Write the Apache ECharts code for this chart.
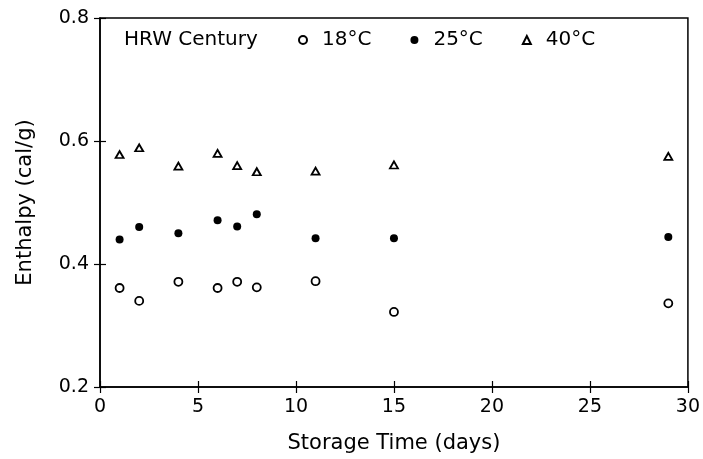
<!DOCTYPE html>
<html>
<head>
<meta charset="utf-8">
<script src="https://cdn.jsdelivr.net/npm/echarts@6/dist/echarts.min.js"></script>
<style>
html,body{margin:0;padding:0;background:#fff;}
#chart{width:703px;height:459px;}
</style>
</head>
<body>
<div id="chart"></div>
<script>
// storage days
var days=[1,2,4,6,7,8,11,15,29];
// enthalpy (cal/g) per temperature
var t18=[0.361,0.340,0.371,0.361,0.371,0.362,0.372,0.322,0.336];
var t25=[0.440,0.460,0.450,0.471,0.461,0.481,0.442,0.442,0.444];
var t40=[0.578,0.589,0.559,0.580,0.560,0.550,0.551,0.561,0.575];

function pairs(ys){
	var out=[];
	for(var i=0;i<days.length;i++){
		out.push([days[i],ys[i]]);
	}
	return out;
}

var font="DejaVu Sans";
var nameTxt={color:'#000',fontSize:21,fontFamily:font};

var option={
	animation:false,
	backgroundColor:'#fff',
	grid:{left:100,right:14,top:18,bottom:71,show:true,borderColor:'#000',borderWidth:1.5,backgroundColor:'transparent'},
	graphic:[
		{type:'text',x:124,y:40,style:{text:'HRW Century',fill:'#000',font:'20px "DejaVu Sans"',textVerticalAlign:'middle'}}
	],
	legend:{
		left:293,top:25,
		itemWidth:8,itemHeight:8,itemGap:39,
		textStyle:{color:'#000',fontSize:20,fontFamily:font,padding:[0,0,0,10]},
		data:['18°C','25°C','40°C']
	},
	xAxis:[
		{
			type:'value',min:0,max:30,interval:5,
			name:'Storage Time (days)',nameLocation:'middle',nameGap:46,
			nameTextStyle:nameTxt,
			axisLine:{show:true,lineStyle:{color:'#000',width:1.5}},
			axisTick:{show:true,inside:false,length:6,lineStyle:{color:'#000',width:1.2}},
			axisLabel:{color:'#000',fontSize:19,fontFamily:font,margin:11},
			splitLine:{show:false}
		},
		{
			type:'value',min:0,max:30,interval:5,position:'bottom',
			axisLine:{show:false},
			axisTick:{show:true,inside:true,length:6,lineStyle:{color:'#000',width:1.2}},
			axisLabel:{show:false},
			splitLine:{show:false}
		}
	],
	yAxis:[
		{
			type:'value',min:0.2,max:0.8,interval:0.2,
			name:'Enthalpy (cal/g)',nameLocation:'middle',nameGap:64,
			nameTextStyle:nameTxt,
			axisLine:{show:true,lineStyle:{color:'#000',width:1.5}},
			axisTick:{show:true,inside:false,length:6,lineStyle:{color:'#000',width:1.2}},
			axisLabel:{color:'#000',fontSize:19,fontFamily:font,margin:11,formatter:function(v){return v.toFixed(1);}},
			splitLine:{show:false}
		},
		{
			type:'value',min:0.2,max:0.8,interval:0.2,position:'left',
			axisLine:{show:false},
			axisTick:{show:true,inside:true,length:6,lineStyle:{color:'#000',width:1.2}},
			axisLabel:{show:false},
			splitLine:{show:false}
		}
	],
	series:[
		{
			name:'18°C',type:'scatter',data:pairs(t18),
			symbol:'circle',symbolSize:8,
			itemStyle:{color:'#fff',borderColor:'#000',borderWidth:1.8,opacity:1}
		},
		{
			name:'25°C',type:'scatter',data:pairs(t25),
			symbol:'circle',symbolSize:8,
			itemStyle:{color:'#000',borderColor:'#000',borderWidth:0,opacity:1}
		},
		{
			name:'40°C',type:'scatter',data:pairs(t40),
			symbol:'triangle',symbolSize:[8,7],
			itemStyle:{color:'#fff',borderColor:'#000',borderWidth:1.8,opacity:1}
		}
	]
};

var mychart=echarts.init(document.getElementById("chart"));
mychart.setOption(option);
</script>
</body>
</html>
